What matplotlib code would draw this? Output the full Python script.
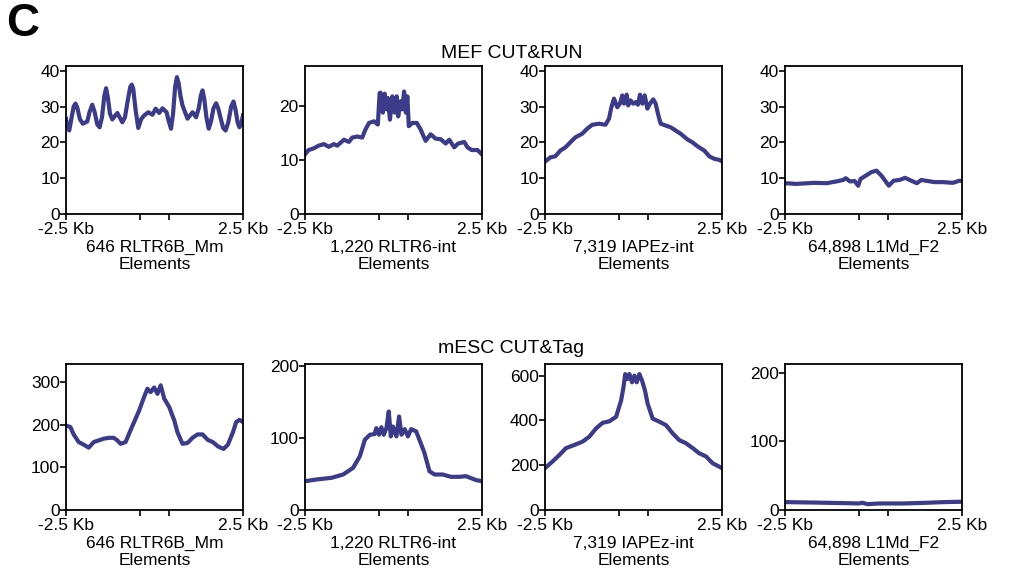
import matplotlib.pyplot as plt

plt.rcParams['font.family'] = ['Liberation Sans', 'DejaVu Sans']

# profile data: x = bin (0..600, TSS at 250, TES at 350), y = mean signal
# --- MEF CUT&RUN ---
mef_rltr6b_x = [0, 5, 11, 18, 26, 32, 38, 47, 57, 72, 80, 89, 97, 106, 114, 122, 130, 136, 142, 149,
                157, 174, 191, 200, 210, 218, 223, 228, 236, 245, 255, 265, 279, 293, 304, 316, 327,
                341, 348, 356, 363, 370, 376, 382, 388, 395, 412, 429, 441, 450, 457, 463, 469, 476,
                484, 492, 500, 509, 516, 525, 533, 541, 550, 560, 568, 575, 582, 588, 595, 600]
mef_rltr6b_y = [26.6, 24.5, 23.3, 26.5, 30.0, 30.8, 29.8, 26.5, 25.2, 25.8, 28.5, 30.5, 28.5, 25.0,
                24.2, 27.0, 33.0, 35.1, 32.5, 28.0, 26.4, 28.2, 25.6, 27.0, 32.0, 35.5, 36.1, 35.0,
                29.0, 24.0, 26.5, 27.5, 28.4, 27.7, 29.4, 28.2, 29.5, 28.4, 26.0, 23.8, 28.0, 35.5,
                38.2, 36.5, 33.0, 30.3, 26.6, 28.4, 27.0, 29.5, 33.0, 34.5, 32.0, 27.0, 23.8, 26.0,
                29.5, 30.9, 29.5, 26.5, 24.0, 23.3, 25.5, 30.0, 31.4, 29.0, 25.5, 24.2, 25.5, 27.5]

mef_rltr6int_x = [0, 12, 29, 46, 64, 81, 98, 109, 132, 149, 160, 177, 194, 205, 217, 234, 247, 253,
                  256, 264, 270, 277, 281, 288, 296, 304, 311, 316, 324, 330, 336, 342, 347, 352, 364,
                  379, 392, 409, 426, 443, 460, 477, 489, 506, 519, 540, 551, 565, 585, 600]
mef_rltr6int_y = [11.0, 11.8, 12.1, 12.6, 12.9, 12.4, 12.9, 12.6, 13.7, 13.3, 14.1, 14.3, 14.1, 15.6,
                  16.8, 17.1, 16.5, 22.3, 22.4, 18.7, 22.2, 19.3, 21.4, 17.4, 21.7, 18.7, 21.7, 18.0,
                  20.8, 19.3, 22.6, 18.7, 21.7, 16.2, 16.8, 16.8, 15.6, 13.5, 14.7, 13.9, 13.8, 13.0,
                  13.7, 12.3, 13.0, 13.3, 12.3, 11.8, 11.8, 11.0]

mef_iapez_x = [0, 18, 35, 52, 69, 86, 103, 126, 143, 160, 183, 205, 217, 225, 234, 245, 254, 262,
               268, 277, 282, 290, 299, 307, 315, 322, 330, 338, 347, 356, 367, 375, 383, 392, 409,
               426, 443, 460, 483, 500, 517, 540, 557, 574, 591, 600]
mef_iapez_y = [14.6, 15.8, 16.1, 17.7, 18.6, 20.0, 21.4, 22.4, 23.8, 24.9, 25.2, 24.9, 26.6, 29.8,
               32.2, 29.8, 30.8, 33.1, 30.8, 33.3, 30.3, 31.7, 30.8, 31.2, 30.5, 33.3, 30.8, 33.1,
               29.4, 30.8, 32.0, 30.8, 28.0, 25.2, 24.7, 24.2, 23.3, 22.4, 20.8, 20.0, 18.9, 17.7,
               16.1, 15.4, 15.1, 14.7]

mef_l1md_x = [0, 39, 96, 141, 175, 197, 206, 220, 236, 248, 256, 270, 293, 310, 327, 343, 352, 368,
              388, 407, 428, 447, 462, 484, 507, 535, 569, 591, 600]
mef_l1md_y = [8.6, 8.4, 8.7, 8.6, 9.1, 9.5, 10.0, 9.1, 9.2, 7.9, 9.8, 10.5, 11.7, 12.1, 10.7, 8.9,
              7.9, 9.3, 9.5, 10.1, 9.3, 8.6, 9.5, 9.2, 8.9, 8.9, 8.7, 9.3, 9.2]

# --- mESC CUT&Tag ---
esc_rltr6b_x = [0, 15, 26, 43, 60, 77, 94, 111, 128, 145, 162, 174, 185, 202, 214, 231, 248, 265,
                276, 287, 299, 310, 321, 333, 350, 367, 378, 395, 412, 429, 446, 463, 481, 498, 515,
                534, 549, 566, 577, 588, 600]
esc_rltr6b_y = [198, 194, 177, 159, 153, 146, 159, 163, 167, 169, 169, 163, 155, 159, 179, 206, 233,
                265, 284, 276, 287, 272, 292, 261, 241, 210, 182, 155, 157, 169, 177, 177, 164, 159,
                149, 143, 153, 182, 206, 211, 206]

esc_rltr6int_x = [0, 39, 90, 129, 163, 186, 203, 220, 236, 242, 251, 259, 267, 276, 284, 291, 298,
                  310, 319, 327, 338, 349, 360, 377, 388, 405, 422, 439, 467, 495, 524, 546, 580, 600]
esc_rltr6int_y = [40, 42.4, 44.7, 49.3, 58.5, 74.7, 97.7, 104.6, 105.5, 113.8, 104.6, 115, 104.6,
                  113.8, 136.9, 102.3, 116, 102.3, 130, 104.6, 112.4, 102.3, 112.4, 109.2, 97.7, 79.3,
                  53.9, 49.3, 49.3, 46.1, 46.1, 47, 41.5, 40]

esc_iapez_x = [0, 26, 49, 71, 99, 127, 150, 173, 195, 218, 241, 258, 266, 272, 280, 286, 295, 303,
               311, 320, 329, 339, 348, 365, 388, 410, 433, 455, 478, 501, 523, 546, 568, 600]
esc_iapez_y = [187, 217, 246, 276, 290, 305, 327, 364, 389, 396, 416, 489, 548, 607, 585, 607, 570,
               600, 570, 607, 578, 533, 475, 408, 394, 379, 342, 312, 298, 276, 253, 239, 209, 187]

esc_l1md_x = [0, 100, 200, 250, 262, 280, 320, 400, 480, 540, 600]
esc_l1md_y = [11.5, 10.8, 10.0, 9.5, 10.5, 8.5, 9.5, 9.5, 10.5, 11.5, 12.0]

labels = ["646 RLTR6B_Mm", "1,220 RLTR6-int", "7,319 IAPEz-int", "64,898 L1Md_F2"]

rows = [
    [(mef_rltr6b_x, mef_rltr6b_y), (mef_rltr6int_x, mef_rltr6int_y),
     (mef_iapez_x, mef_iapez_y), (mef_l1md_x, mef_l1md_y)],
    [(esc_rltr6b_x, esc_rltr6b_y), (esc_rltr6int_x, esc_rltr6int_y),
     (esc_iapez_x, esc_iapez_y), (esc_l1md_x, esc_l1md_y)],
]
ylims = [[41.3, 27.3, 41.3, 41.3], [342, 203, 652, 213]]
yticks = [[[0, 10, 20, 30, 40], [0, 10, 20], [0, 10, 20, 30, 40], [0, 10, 20, 30, 40]],
          [[0, 100, 200, 300], [0, 100, 200], [0, 200, 400, 600], [0, 100, 200]]]

line_color = '#3b3b8a'
fig = plt.figure(figsize=(10.17, 5.73), dpi=100)

lefts = [0.0649, 0.2999, 0.5359, 0.7719]
bottoms = [0.6265, 0.110]
heights = [0.2583, 0.2548]
width = 0.174

for r in range(2):
    for c in range(4):
        ax = fig.add_axes([lefts[c], bottoms[r], width, heights[r]])
        x, y = rows[r][c]
        ax.plot(x, y, color=line_color, lw=3.0, solid_joinstyle='round')
        ax.set_xlim(0, 600)
        ax.set_ylim(0, ylims[r][c])
        ax.set_yticks(yticks[r][c])
        ax.set_xticks([0, 250, 350, 600])
        ax.set_xticklabels(["-2.5 Kb", "", "", "2.5 Kb"])
        ax.tick_params(direction='out', length=4, width=1.2, labelsize=12.5, pad=0.5)
        ax.tick_params(axis='x', pad=2)
        for s in ax.spines.values():
            s.set_linewidth(1.3)
        ax.set_xlabel(labels[c] + "\nElements", fontsize=12.5, labelpad=2, linespacing=1.15)

fig.text(0.503, 0.906, "MEF CUT&RUN", ha='center', va='center', fontsize=14)
fig.text(0.503, 0.391, "mESC CUT&Tag", ha='center', va='center', fontsize=14)
fig.text(0.006, 0.997, "C", ha='left', va='top', fontsize=33, fontweight='bold')

fig.savefig("out.png", dpi=100)
